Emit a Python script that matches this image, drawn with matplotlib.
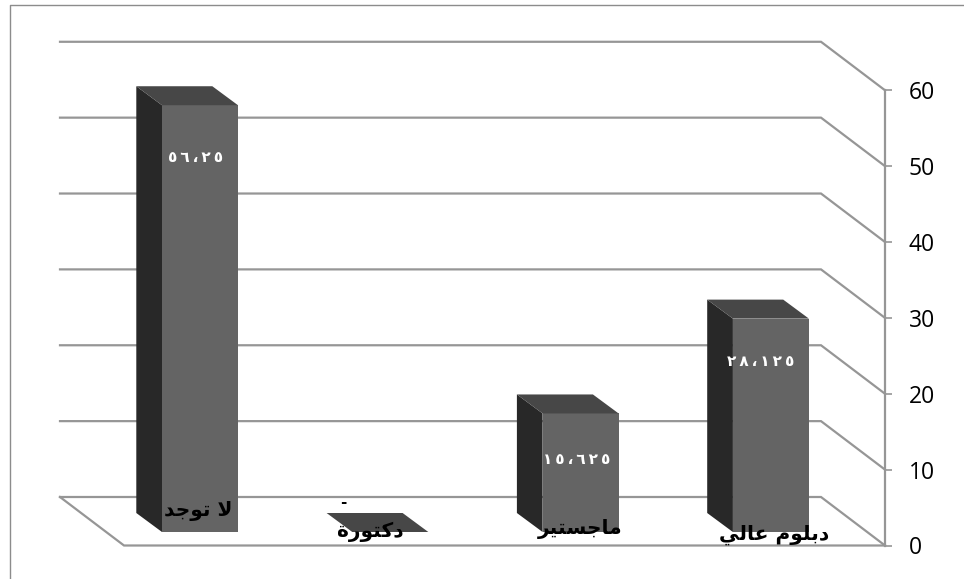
import matplotlib
matplotlib.use("Agg")
import matplotlib.pyplot as plt
from matplotlib.lines import Line2D

# ---- data (logical Arabic text)
categories = ["لا توجد", "دكتورة", "ماجستير", "دبلوم عالي"]
values = [56.25, 0, 15.625, 28.125]
value_labels = ["٥٦،٢٥", "-", "١٥،٦٢٥", "٢٨،١٢٥"]
ticks = [0, 10, 20, 30, 40, 50, 60]

# ---- Arabic shaping (matplotlib does not shape or reorder)
FORMS = {  # isolated, final, initial, medial
    "ا": "\ufe8d\ufe8e", "د": "\ufea9\ufeaa", "ر": "\ufead\ufeae", "و": "\ufeed\ufeee",
    "ة": "\ufe93\ufe94",
    "ب": "\ufe8f\ufe90\ufe91\ufe92", "ت": "\ufe95\ufe96\ufe97\ufe98",
    "ج": "\ufe9d\ufe9e\ufe9f\ufea0", "س": "\ufeb1\ufeb2\ufeb3\ufeb4",
    "ع": "\ufec9\ufeca\ufecb\ufecc", "ك": "\ufed9\ufeda\ufedb\ufedc",
    "ل": "\ufedd\ufede\ufedf\ufee0", "م": "\ufee1\ufee2\ufee3\ufee4",
    "ي": "\ufef1\ufef2\ufef3\ufef4",
}

def shape(text):
    text = text.replace("لا", "\ufefb")
    out = []
    for i, c in enumerate(text):
        f = FORMS.get(c)
        if f is None:
            out.append(c)
            continue
        prev = text[i - 1] if i else ""
        nxt = text[i + 1] if i + 1 < len(text) else ""
        from_prev = prev in FORMS and len(FORMS[prev]) == 4
        to_next = len(f) == 4 and (nxt in FORMS or nxt == "\ufefb")
        idx = (1 if from_prev else 0) + (2 if to_next else 0)
        out.append(f[idx])
    return "".join(reversed(out))

# ---- layout
W, H = 964, 579
fig = plt.figure(figsize=(W / 100, H / 100), dpi=100, facecolor="white")
ax = fig.add_axes([0, 0, 1, 1])

PX_X = 190.3   # pixels per category
PX_Y = 7.587   # pixels per value unit
X0 = 200.0     # pixel of the first bar centre
Y0 = 545.5     # pixel of value 0 on the axis
ax.set_xlim(-X0 / PX_X, (W - X0) / PX_X)
ax.set_ylim((Y0 - H) / PX_Y, Y0 / PX_Y)
dx = lambda p: p / PX_X
dy = lambda p: p / PX_Y

GRID = "#969696"
LW = 1.6
x_left, x_right = dx(124 - X0), dx(885 - X0)
back_x, back_y = dx(-64), dy(48.5)

# floor
ax.plot([x_left + back_x, x_left, x_right], [back_y, 0, 0], color=GRID, lw=LW, zorder=1,
        solid_joinstyle="miter")
# walls
for t in ticks:
    ax.plot([x_left + back_x, x_right + back_x, x_right], [t + back_y, t + back_y, t],
            color=GRID, lw=LW, zorder=1, solid_joinstyle="miter")

# value axis
for s in ("left", "top", "bottom"):
    ax.spines[s].set_visible(False)
ax.spines["right"].set_position(("data", x_right))
ax.spines["right"].set_bounds(0, 60)
ax.spines["right"].set_color(GRID)
ax.spines["right"].set_linewidth(LW)
ax.yaxis.tick_right()
ax.set_yticks(ticks)
ax.set_xticks([])
ax.tick_params(axis="y", length=5, width=1.2, color=GRID, pad=12, labelsize=16.5,
               labelcolor="black")
for lab in ax.get_yticklabels():
    lab.set_fontfamily("Open Sans")

# bars
BAR_W = 76 / PX_X
base = dy(13.5)
depth_x, depth_y = dx(-25.7), dy(19)
xs = list(range(len(values)))
ax.bar(xs, values, width=BAR_W, bottom=base, color="#646464", linewidth=0, zorder=3)
for x, v in zip(xs, values):
    l, r = x - BAR_W / 2, x + BAR_W / 2
    top = base + v
    if v > 0:
        ax.fill([l, l + depth_x, l + depth_x, l],
                [base, base + depth_y, top + depth_y, top],
                color="#282828", lw=0, zorder=3)
    ax.fill([l, l + depth_x, r + depth_x, r],
            [top, top + depth_y, top + depth_y, top],
            color="#474747", lw=0, zorder=3)

# value labels (digits are spread with thin spaces as in the reference)
val_px = [(-4, 157), (-47, 503), (-4, 460), (-10, 362)]
for x, lab, (ox, py) in zip(xs, value_labels, val_px):
    ax.text(x + dx(ox), (Y0 - py) / PX_Y, "\u2009".join(lab), ha="center", va="center",
            color="black" if lab == "-" else "white", fontsize=11, fontweight="bold",
            family="DejaVu Sans", zorder=5)

# category labels
cat_px = [(-2, 511), (-20, 532), (0, 529), (3, 535)]
for x, lab, (ox, py) in zip(xs, categories, cat_px):
    ax.text(x + dx(ox), (Y0 - py) / PX_Y, shape(lab), ha="center", va="center",
            color="black", fontsize=14.5, fontweight="bold", family="DejaVu Sans", zorder=5)

# chart-area frame (only top and left edges are visible in the crop)
fig.add_artist(Line2D([9.5 / W, 9.5 / W, 1], [0, 1 - 4.5 / H, 1 - 4.5 / H],
                      color="#8c8c8c", lw=1.0))

fig.savefig("out.png", dpi=100, facecolor="white")
